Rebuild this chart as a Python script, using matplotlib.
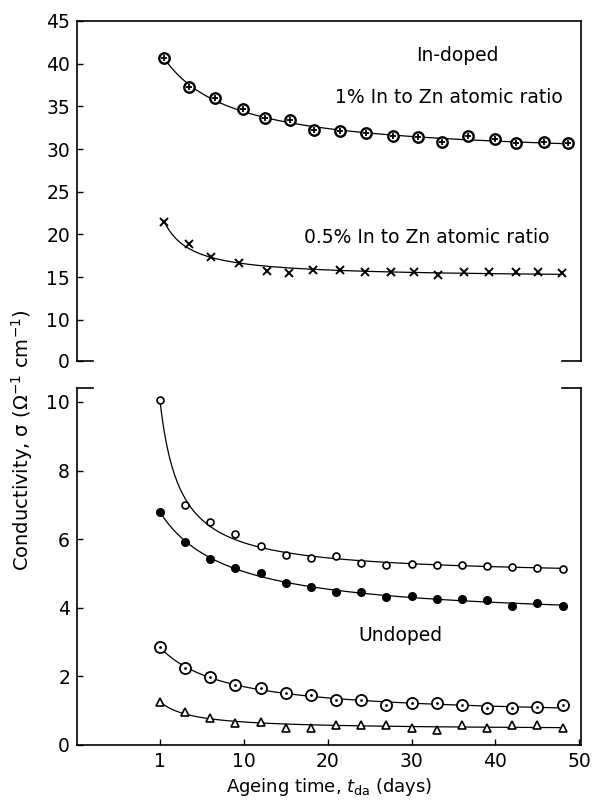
""" Conductivity vs ageing time - In-doped and undoped films """

import numpy as np
import matplotlib
matplotlib.use('Agg')
import matplotlib.pyplot as plt

plt.rcParams['font.family'] = ['DejaVu Sans']
plt.rcParams['mathtext.fontset'] = 'dejavusans'

# DATA (ageing time positions as drawn, first point sits on the "1" tick)
t_undoped = [0, 3, 6, 9, 12, 15, 18, 21, 24, 27, 30, 33, 36, 39, 42, 45, 48]
t_in1 = [0.5, 3.5, 6.6, 9.9, 12.5, 15.5, 18.4, 21.5, 24.6, 27.8, 30.8, 33.6,
         36.7, 39.9, 42.5, 45.8, 48.7]
t_in05 = [0.5, 3.5, 6.1, 9.4, 12.7, 15.4, 18.3, 21.5, 24.5, 27.6, 30.3, 33.2,
          36.3, 39.2, 42.4, 45.1, 47.9]

sigma_in1 = [40.65, 37.25, 35.95, 34.65, 33.6, 33.35, 32.2, 32.1, 31.85, 31.5,
             31.4, 30.8, 31.5, 31.15, 30.7, 30.8, 30.7]
sigma_in05 = [21.4, 18.9, 17.3, 16.6, 15.75, 15.5, 15.85, 15.85, 15.6, 15.6,
              15.6, 15.2, 15.6, 15.6, 15.6, 15.6, 15.5]

sigma_open = [10.05, 7.0, 6.5, 6.15, 5.8, 5.55, 5.45, 5.5, 5.3, 5.25, 5.27,
              5.25, 5.25, 5.22, 5.2, 5.17, 5.12]
sigma_filled = [6.8, 5.92, 5.42, 5.16, 5.0, 4.72, 4.6, 4.45, 4.45, 4.3, 4.35,
                4.25, 4.25, 4.22, 4.05, 4.13, 4.05]
sigma_dotted = [2.85, 2.25, 1.98, 1.75, 1.65, 1.52, 1.45, 1.3, 1.3, 1.17, 1.22,
                1.22, 1.17, 1.08, 1.08, 1.1, 1.17]
sigma_tri = [1.25, 0.95, 0.8, 0.65, 0.68, 0.5, 0.5, 0.58, 0.58, 0.58, 0.5,
             0.45, 0.58, 0.5, 0.58, 0.58, 0.5]

x_ticks = [0, 10, 20, 30, 40, 50]
x_ticklabels = ['1', '10', '20', '30', '40', '50']
top_ticks = [10, 15, 20, 25, 30, 35, 40, 45]
bottom_ticks = [0, 2, 4, 6, 8, 10]


def fit_curve(t, y):
    """ hand-drawn style trend: y = a + b / (t + c) """
    t = np.asarray(t, float)
    y = np.asarray(y, float)
    best = None
    for c in np.linspace(0.1, 30, 600):
        A = np.column_stack([np.ones_like(t), 1.0 / (t + c)])
        coef = np.linalg.lstsq(A, y, rcond=None)[0]
        err = np.sum((A @ coef - y) ** 2)
        if best is None or err < best[0]:
            best = (err, c, coef)
    tt = np.linspace(t[0], t[-1], 300)
    return tt, best[2][0] + best[2][1] / (tt + best[1])


fig = plt.figure(figsize=(5.94, 8.0), dpi=100)
ax1 = fig.add_axes([0.1296, 0.5488, 0.8485, 0.425])
ax2 = fig.add_axes([0.1296, 0.0688, 0.8485, 0.4463])

lw = 0.9
fs_note = 13.5

# Top panel: In-doped
for t, s in [(t_in1, sigma_in1), (t_in05, sigma_in05)]:
    tt, ss = fit_curve(t, s)
    ax1.plot(tt, ss, color='black', lw=lw, zorder=2)
ax1.plot(t_in1, sigma_in1, 'o', ms=7.5, mfc='white', mec='black', mew=1.7, zorder=3)
ax1.plot(t_in1, sigma_in1, '+', ms=5, mec='black', mew=1.3, zorder=4)
ax1.plot(t_in05, sigma_in05, 'x', ms=5.5, mec='black', mew=1.4, zorder=3)

ax1.text(35.5, 41.0, 'In-doped', ha='center', va='center', fontsize=fs_note)
ax1.text(48.0, 36.0, '1% In to Zn atomic ratio', ha='right', va='center', fontsize=fs_note)
ax1.text(46.4, 19.6, '0.5% In to Zn atomic ratio', ha='right', va='center', fontsize=fs_note)

# Bottom panel: undoped
for s in [sigma_open, sigma_filled, sigma_dotted, sigma_tri]:
    tt, ss = fit_curve(t_undoped, s)
    ax2.plot(tt, ss, color='black', lw=lw, zorder=2)
ax2.plot(t_undoped, sigma_open, 'o', ms=5, mfc='white', mec='black', mew=1.2, zorder=3)
ax2.plot(t_undoped, sigma_filled, 'o', ms=5.5, mfc='black', mec='black', zorder=3)
ax2.plot(t_undoped, sigma_dotted, 'o', ms=8, mfc='white', mec='black', mew=1.3, zorder=3)
ax2.plot(t_undoped, sigma_dotted, '.', ms=2, color='black', zorder=4)
ax2.plot(t_undoped, sigma_tri, '^', ms=5.5, mfc='white', mec='black', mew=1.2, zorder=3)

ax2.text(28.7, 3.2, 'Undoped', ha='center', va='center', fontsize=fs_note)

# Axes styling
y_bot = 5.18
ax1.set_xlim(-9.9, 50.2)
ax1.set_ylim(y_bot, 45)
ax1.set_yticks([y_bot] + top_ticks)
ax1.set_yticklabels(['0'] + [str(v) for v in top_ticks])
ax1.set_xticks([])
ax1.spines['bottom'].set_visible(False)

ax2.set_xlim(-9.9, 50.2)
ax2.set_ylim(0, 10.41)
ax2.set_yticks(bottom_ticks)
ax2.set_xticks(x_ticks)
ax2.set_xticklabels(x_ticklabels)
ax2.spines['top'].set_visible(False)

for ax in (ax1, ax2):
    for sp in ax.spines.values():
        sp.set_linewidth(1.2)
    ax.tick_params(direction='in', length=4, width=1, labelsize=13.5, pad=5)

# Break stubs
ax1.plot([0, 0.032], [0, 0], transform=ax1.transAxes, color='black', lw=1.2, clip_on=False)
ax1.plot([0.962, 1.0], [0, 0], transform=ax1.transAxes, color='black', lw=1.2, clip_on=False)
ax2.plot([0, 0.032], [1, 1], transform=ax2.transAxes, color='black', lw=1.2, clip_on=False)
ax2.plot([0.962, 1.0], [1, 1], transform=ax2.transAxes, color='black', lw=1.2, clip_on=False)

ax2.set_xlabel(r'Ageing time, $t_{\mathrm{da}}$ (days)', fontsize=13, labelpad=4)
fig.text(0.037, 0.45, r'Conductivity, σ (Ω$^{-1}$ cm$^{-1}$)', rotation=90,
         ha='center', va='center', fontsize=14)

fig.savefig('out.png', dpi=100)
